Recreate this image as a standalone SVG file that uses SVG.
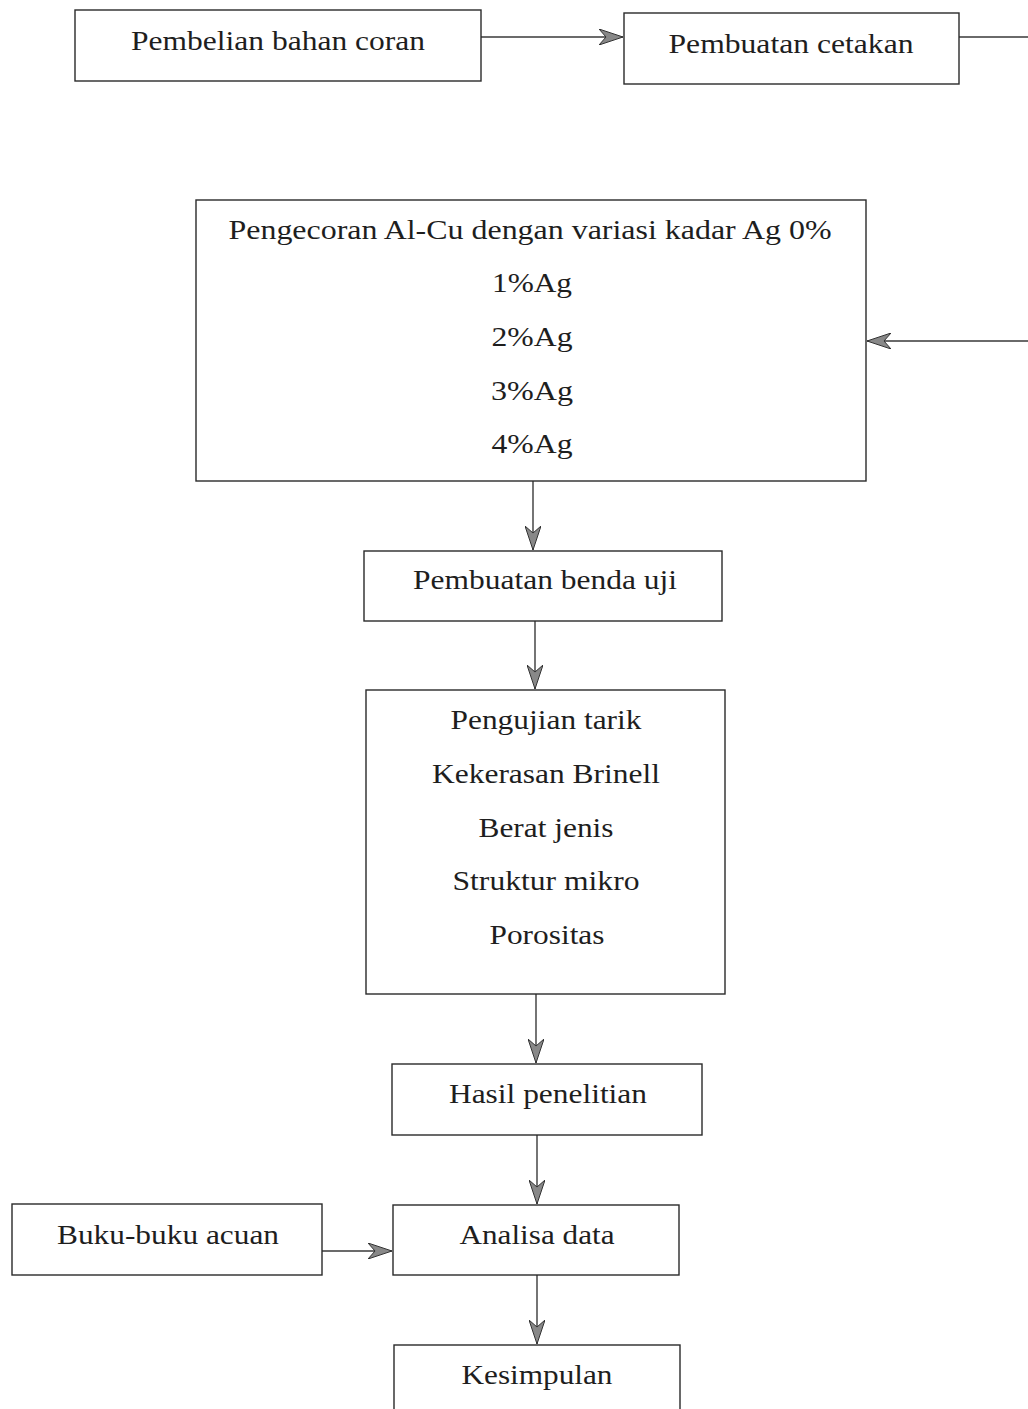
<svg xmlns="http://www.w3.org/2000/svg" width="1028" height="1409" viewBox="0 0 1028 1409">
<style>
.box{fill:#fff;stroke:#2a2a2a;stroke-width:1.4}
.t{font-family:"Liberation Serif","Times New Roman",serif;font-size:28px;fill:#1e1e1e;text-anchor:middle}
.c{fill:none;stroke:#3a3a3a;stroke-width:1.4}
</style>
<defs>
<marker id="ah" markerUnits="userSpaceOnUse" viewBox="0 0 24 16" refX="24" refY="8" markerWidth="24" markerHeight="16" orient="auto">
<path d="M0,0 L24,8 L0,16 L7,8 Z" fill="#888" stroke="#333" stroke-width="1"/>
</marker>
</defs>
<rect width="1028" height="1409" fill="#fff"/>
<g id="connectors">
<path class="c" d="M481,37 H623" marker-end="url(#ah)"/>
<path class="c" d="M959,37 H1045 V341 H867" marker-end="url(#ah)"/>
<path class="c" d="M533,481 V550" marker-end="url(#ah)"/>
<path class="c" d="M535,621 V689" marker-end="url(#ah)"/>
<path class="c" d="M536,994 V1063" marker-end="url(#ah)"/>
<path class="c" d="M537,1135 V1204" marker-end="url(#ah)"/>
<path class="c" d="M322,1251 H392" marker-end="url(#ah)"/>
<path class="c" d="M537,1275 V1344" marker-end="url(#ah)"/>
</g>
<g id="node-pembelian">
<rect class="box" x="75" y="10" width="406" height="71"/>
<text class="t" x="278" y="50" textLength="294" lengthAdjust="spacingAndGlyphs">Pembelian bahan coran</text>
</g>
<g id="node-cetakan">
<rect class="box" x="624" y="13" width="335" height="71"/>
<text class="t" x="791" y="53" textLength="245" lengthAdjust="spacingAndGlyphs">Pembuatan cetakan</text>
</g>
<g id="node-pengecoran">
<rect class="box" x="196" y="200" width="670" height="281"/>
<text class="t" x="530" y="239" textLength="603" lengthAdjust="spacingAndGlyphs">Pengecoran Al-Cu dengan variasi kadar Ag 0%</text>
<text class="t" x="532" y="292" textLength="80" lengthAdjust="spacingAndGlyphs">1%Ag</text>
<text class="t" x="532" y="346" textLength="81" lengthAdjust="spacingAndGlyphs">2%Ag</text>
<text class="t" x="532" y="400" textLength="82" lengthAdjust="spacingAndGlyphs">3%Ag</text>
<text class="t" x="532" y="453" textLength="81" lengthAdjust="spacingAndGlyphs">4%Ag</text>
</g>
<g id="node-benda-uji">
<rect class="box" x="364" y="551" width="358" height="70"/>
<text class="t" x="545" y="589" textLength="264" lengthAdjust="spacingAndGlyphs">Pembuatan benda uji</text>
</g>
<g id="node-pengujian">
<rect class="box" x="366" y="690" width="359" height="304"/>
<text class="t" x="546" y="729" textLength="191" lengthAdjust="spacingAndGlyphs">Pengujian tarik</text>
<text class="t" x="546" y="783" textLength="228" lengthAdjust="spacingAndGlyphs">Kekerasan Brinell</text>
<text class="t" x="546" y="837" textLength="135" lengthAdjust="spacingAndGlyphs">Berat jenis</text>
<text class="t" x="546" y="890" textLength="187" lengthAdjust="spacingAndGlyphs">Struktur mikro</text>
<text class="t" x="547" y="944" textLength="115" lengthAdjust="spacingAndGlyphs">Porositas</text>
</g>
<g id="node-hasil">
<rect class="box" x="392" y="1064" width="310" height="71"/>
<text class="t" x="548" y="1103" textLength="198" lengthAdjust="spacingAndGlyphs">Hasil penelitian</text>
</g>
<g id="node-buku">
<rect class="box" x="12" y="1204" width="310" height="71"/>
<text class="t" x="168" y="1244" textLength="222" lengthAdjust="spacingAndGlyphs">Buku-buku acuan</text>
</g>
<g id="node-analisa">
<rect class="box" x="393" y="1205" width="286" height="70"/>
<text class="t" x="537" y="1244" textLength="155" lengthAdjust="spacingAndGlyphs">Analisa data</text>
</g>
<g id="node-kesimpulan">
<rect class="box" x="394" y="1345" width="286" height="80"/>
<text class="t" x="537" y="1384" textLength="151" lengthAdjust="spacingAndGlyphs">Kesimpulan</text>
</g>
</svg>
